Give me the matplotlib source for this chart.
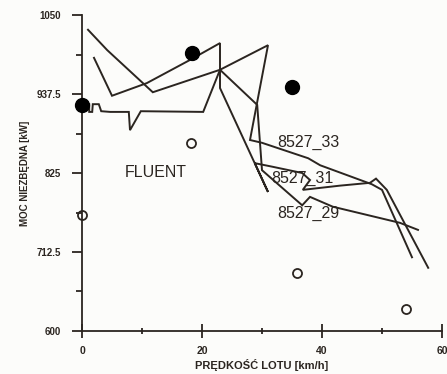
import matplotlib
matplotlib.use('Agg')
import matplotlib.pyplot as plt
import numpy as np

# measured power curves (speed km/h, power kW)
x_33 = [1.0, 4.2, 11.8, 23.0, 31.0, 28.0, 30.0, 37.7, 39.7, 48.3, 50.0, 55.0]
y_33 = [1029, 1000, 940, 972, 1007, 872, 868, 846, 836, 809, 801, 705]

x_31 = [2.0, 5.0, 10.8, 18.0, 23.0, 23.0, 31.0, 28.8, 31.7, 36.7, 38.0, 36.8, 43.0, 48.0, 49.0, 50.8, 57.7]
y_31 = [989, 935, 953, 986, 1010, 946, 798, 839, 834, 825, 815, 801, 807, 811, 817, 801, 690]

x_29 = [0.2, 0.8, 1.2, 1.2, 1.7, 1.8, 2.8, 3.2, 4.7, 7.8, 8.0, 9.8, 20.2, 23.0, 29.2, 30.0, 36.7, 38.0, 41.8, 53.0, 56.0]
y_29 = [923, 923, 923, 912, 912, 923, 923, 913, 912, 912, 886, 913, 912, 972, 922, 829, 779, 791, 777, 754, 744]

# FLUENT results
fl_x = [0, 18.3, 35.0]
fl_y = [922, 996, 948]
open_x = [0, 18.2, 35.8, 54.0]
open_y = [765, 868, 683, 631]

ink = '#2b2520'
plt.rcParams['font.family'] = ['Liberation Sans', 'DejaVu Sans']

fig = plt.figure(figsize=(4.47, 3.74), dpi=100, facecolor='#fcfcfa')
ax = fig.add_axes([82/447, 1-331/374, 360/447, 316/374])
ax.set_facecolor('#fcfcfa')

for xs, ys in [(x_33, y_33), (x_31, y_31), (x_29, y_29)]:
    ax.plot(xs, ys, color=ink, lw=1.4, solid_joinstyle='miter')

ax.plot(fl_x, fl_y, 'o', color='black', ms=10, clip_on=False, zorder=5)
ax.plot(open_x, open_y, 'o', mfc='none', mec=ink, mew=1.3, ms=6.5, clip_on=False, zorder=5)

ax.text(12.3, 826, 'FLUENT', fontsize=11.5, color=ink, ha='center', va='center')
ax.text(37.7, 868, '8527_33', fontsize=11.5, color=ink, ha='center', va='center')
ax.text(36.7, 817, '8527_31', fontsize=11.5, color=ink, ha='center', va='center')
ax.text(37.7, 767, '8527_29', fontsize=11.5, color=ink, ha='center', va='center')

ax.set_xlim(0, 60)
ax.set_ylim(600, 1050)
ax.set_xticks([0, 20, 40, 60])
ax.set_xticks([10, 30, 50], minor=True)
yt = [600, 712.5, 825, 937.5, 1050]
ax.set_yticks(yt)
ax.set_yticklabels(['600', '712.5', '825', '937.5', '1050'])
ax.set_yticks([656.25, 768.75, 881.25, 993.75], minor=True)

for s in ['top', 'right']:
    ax.spines[s].set_visible(False)
for s in ['left', 'bottom']:
    ax.spines[s].set_color(ink)
    ax.spines[s].set_linewidth(1.3)

ax.tick_params(axis='y', which='major', direction='out', length=7, width=1.3, pad=8, colors=ink, labelsize=7)
ax.tick_params(axis='y', which='minor', direction='out', length=4, width=1.3, colors=ink)
ax.tick_params(axis='x', which='major', direction='inout', length=10, width=1.3, pad=6, colors=ink, labelsize=7.5)
ax.tick_params(axis='x', which='minor', direction='inout', length=5, width=1.3, colors=ink)
for lab in ax.get_xticklabels() + ax.get_yticklabels():
    lab.set_fontweight('bold')

ax.set_xlabel('PRĘDKOŚĆ LOTU [km/h]', fontsize=8, fontweight='bold', color=ink, labelpad=2)
ax.set_ylabel('MOC NIEZBĘDNA [kW]', fontsize=7, fontweight='bold', color=ink, labelpad=5)

fig.savefig('out.png', dpi=100, facecolor=fig.get_facecolor())
